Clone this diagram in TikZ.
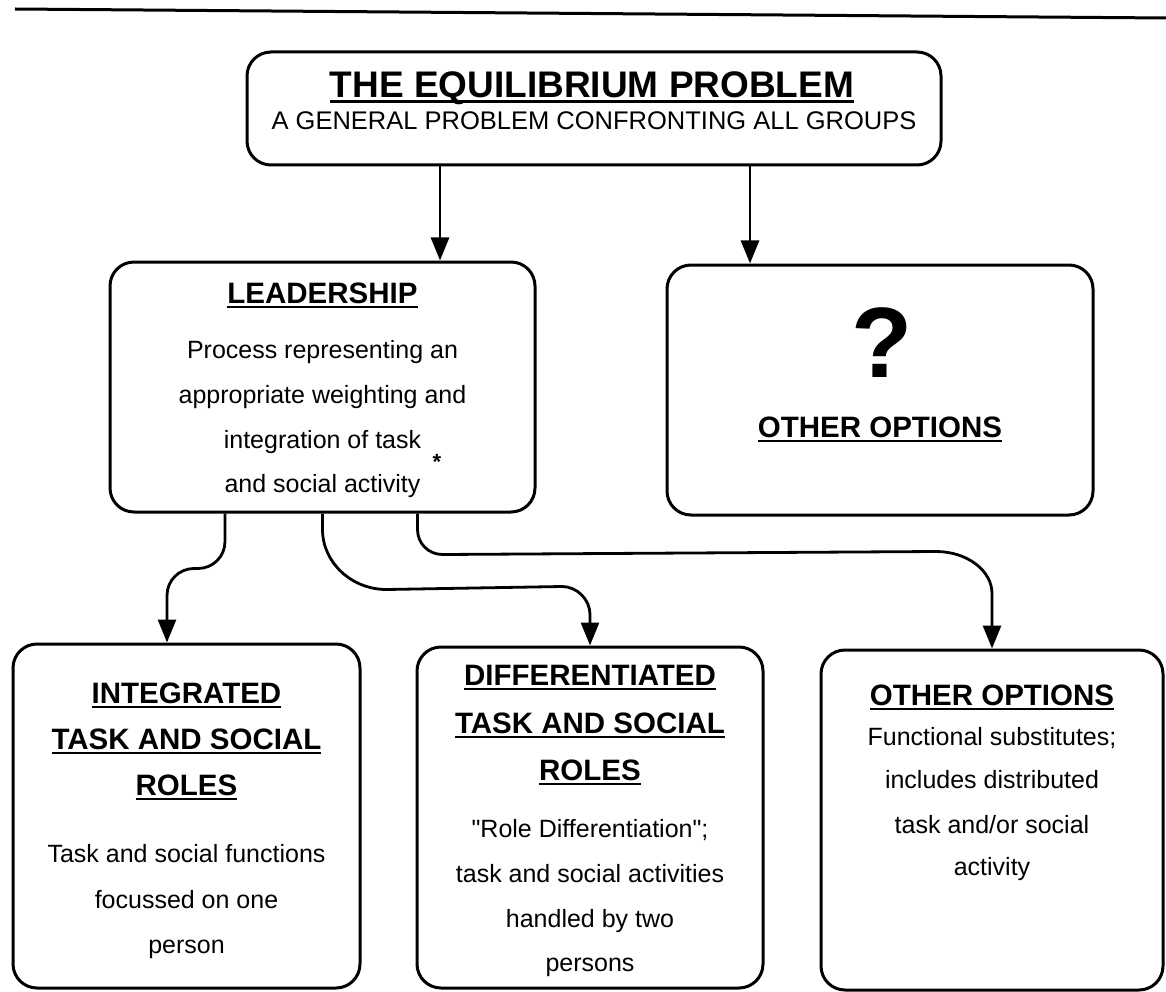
\documentclass[tikz,border=0pt]{standalone}
\usepackage{fontspec}
\setmainfont{Liberation Sans}[Ligatures=TeXOff]
\usetikzlibrary{arrows.meta,calc}
\newsavebox{\ulbox}
\newcommand{\uln}[2][2.2pt]{%
  \sbox{\ulbox}{#2}\rlap{\rule[-5pt]{\wd\ulbox}{#1}}\usebox{\ulbox}%
}
\tikzstyle{block} = [rectangle, draw, line width=3pt, rounded corners=24pt, inner sep=0pt]
\tikzstyle{head} = [anchor=base, inner sep=0pt, font=\fontsize{29.5}{30}\selectfont\bfseries]
\tikzstyle{body} = [anchor=base, inner sep=0pt, font=\fontsize{25}{26}\selectfont]
\tikzset{edge/.style = {
    line width=2.8pt,
    -{Triangle[length=23pt, width=18pt]},
  }
}

\begin{document}
\begin{tikzpicture}[x=1pt, y=-1pt]
  \useasboundingbox (0,0) rectangle (1166,992);
  \draw[line width=3pt] (15,9) -- (1166,18);

  % boxes
  \node[block, minimum width=694pt, minimum height=113pt] (top) at (594,108.5) {};
  \node[block, minimum width=425pt, minimum height=250pt] (lead) at (322.5,387) {};
  \node[block, minimum width=426pt, minimum height=250pt] (other1) at (880,390) {};
  \node[block, minimum width=347pt, minimum height=344pt] (integ) at (186.5,816) {};
  \node[block, minimum width=346pt, minimum height=341pt] (diff) at (590,817.5) {};
  \node[block, minimum width=342pt, minimum height=340pt] (other2) at (992,820) {};

  % texts
  \node[anchor=base, inner sep=0pt, font=\fontsize{37}{37}\selectfont\bfseries] (title) at (592,98)
    {\uln[2.8pt]{THE EQUILIBRIUM PROBLEM}};
  \node[body, font=\fontsize{25.5}{26}\selectfont] (sub) at (594,130) {A GENERAL PROBLEM CONFRONTING ALL GROUPS};

  \node[head] (lead0) at (322.5,303) {\uln{LEADERSHIP}};
  \node[body] (lead1) at (322.5,358) {Process representing an};
  \node[body] (lead2) at (322.5,403) {appropriate weighting and};
  \node[body] (lead3) at (322.5,448) {integration of task};
  \node[body] (lead4) at (322.5,492) {and social activity};
  \node[inner sep=0pt, font=\fontsize{22}{22}\selectfont\bfseries] (star) at (437,462) {*};

  \node[anchor=base, inner sep=0pt, font=\fontsize{100}{100}\selectfont\bfseries] (qmark) at (882,377) {?};
  \node[head] (other1h) at (880,437) {\uln{OTHER OPTIONS}};

  \node[head] (integ1) at (186.5,703) {\uln{INTEGRATED}};
  \node[head] (integ2) at (186.5,749) {\uln{TASK AND SOCIAL}};
  \node[head] (integ3) at (186.5,795) {\uln{ROLES}};
  \node[body] (integ4) at (186.5,862) {Task and social functions};
  \node[body] (integ5) at (186.5,908) {focussed on one};
  \node[body] (integ6) at (186.5,953) {person};

  \node[head] (diff1) at (590,685) {\uln{DIFFERENTIATED}};
  \node[head] (diff2) at (590,733) {\uln{TASK AND SOCIAL}};
  \node[head] (diff3) at (590,780) {\uln{ROLES}};
  \node[body] (diff4) at (590,837) {"Role Differentiation";};
  \node[body] (diff5) at (590,882) {task and social activities};
  \node[body] (diff6) at (590,927) {handled by two};
  \node[body] (diff7) at (590,971) {persons};

  \node[head] (other2h) at (992,705) {\uln{OTHER OPTIONS}};
  \node[body] (other2a) at (992,745) {Functional substitutes;};
  \node[body] (other2b) at (992,788) {includes distributed};
  \node[body] (other2c) at (992,833) {task and/or social};
  \node[body] (other2d) at (992,875) {activity};

  % edges
  \draw[edge] ([xshift=-154pt]top.south) -- ([xshift=117.5pt]lead.north);
  \draw[edge] ([xshift=156pt]top.south) -- ([xshift=-130pt]other1.north);
  \draw[edge] ([xshift=-97.5pt]lead.south) -- ++(0,28)
    .. controls +(0,15) and +(15,0) .. ++(-27,27) -- ++(-4,0)
    .. controls +(-15,0) and +(0,-15) .. ++(-27,27) -- ([xshift=-19.5pt]integ.north);
  \draw[edge] (lead.south) -- ++(0,16)
    .. controls +(0,33) and +(-35,0) .. ++(64,60) -- ($(diff.north)+(-28,-59)$)
    .. controls +(15,0) and +(0,-15) .. ++(28,28) -- (diff.north);
  \draw[edge] ([xshift=95pt]lead.south) -- ++(0,16)
    .. controls +(0,14) and +(-14,0) .. ++(25,25) -- ($(other2.north)+(-56,-97)$)
    .. controls +(31,0) and +(0,-23) .. ++(56,42) -- (other2.north);

\end{tikzpicture}
\end{document}
